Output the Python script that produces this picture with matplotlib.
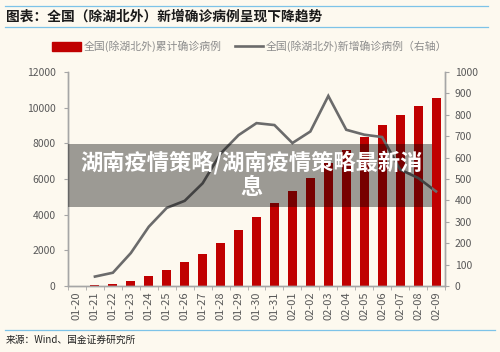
import matplotlib
matplotlib.use("Agg")
import matplotlib.pyplot as plt
from matplotlib.lines import Line2D
from matplotlib.patches import Patch, Rectangle
import numpy as np

plt.rcParams['font.family'] = ['Noto Sans CJK SC', 'DejaVu Sans']

dates = ["01-20", "01-21", "01-22", "01-23", "01-24", "01-25", "01-26", "01-27",
         "01-28", "01-29", "01-30", "01-31", "02-01", "02-02", "02-03", "02-04",
         "02-05", "02-06", "02-07", "02-08", "02-09"]
cumulative = [21, 65, 127, 281, 558, 923, 1321, 1801, 2420, 3125, 3886, 4638,
              5306, 6028, 6916, 7646, 8353, 9049, 9593, 10098, 10540]
new_cases = [None, 44, 62, 154, 277, 365, 398, 480, 619, 705, 761, 752,
             668, 722, 888, 730, 707, 696, 544, 505, 442]

bg = "#FDF9EF"
red = "#C00000"
gray_line = "#6B6B6B"
tick_col = "#595959"
spine_col = "#A6A6A6"
blue = "#7DC3E8"

fig = plt.figure(figsize=(5.0, 3.52), dpi=100, facecolor=bg)
ax = fig.add_axes([0.136, 0.1875, 0.754, 0.608], facecolor=bg)
ax2 = ax.twinx()

x = np.arange(len(dates))
ax.bar(x, cumulative, width=0.5, color=red, zorder=2)
xs = [i for i, v in zip(x, new_cases) if v is not None]
ys = [v for v in new_cases if v is not None]
ax2.plot(xs, ys, color=gray_line, lw=1.9, solid_joinstyle='miter', zorder=3)

ax.set_xlim(-0.5, 20.5)
ax.set_ylim(0, 12000)
ax2.set_ylim(0, 1000)
ax.set_yticks(np.arange(0, 12001, 2000))
ax2.set_yticks(np.arange(0, 1001, 100))

ax.set_xticks(x)
ax.set_xticklabels(dates, rotation=90)
ax.set_xticks(np.arange(-0.5, 20.6, 1), minor=True)
ax.tick_params(axis='x', which='major', length=0, pad=4, labelsize=8, labelcolor=tick_col)
ax.tick_params(axis='x', which='minor', length=3, color=spine_col, direction='out')
ax.tick_params(axis='y', length=3, color=spine_col, labelsize=7.5, labelcolor=tick_col, pad=6)
ax2.tick_params(axis='y', length=3, color=spine_col, labelsize=7.5, labelcolor=tick_col, pad=4)

for a in (ax, ax2):
    a.spines['top'].set_visible(False)
    for s in ('left', 'right', 'bottom'):
        a.spines[s].set_color(spine_col)
        a.spines[s].set_linewidth(1.0)

# Title and lines
fig.add_artist(Line2D([0.01, 0.976], [1 - 6/352, 1 - 6/352], color=blue, lw=0.9))
fig.add_artist(Line2D([0.01, 0.976], [1 - 27/352, 1 - 27/352], color=blue, lw=0.9))
fig.text(0.012, 1 - 16.5/352, "图表：全国（除湖北外）新增确诊病例呈现下降趋势",
         fontsize=9.9, fontweight='bold', color="#1A1A1A", va='center', ha='left')
fig.add_artist(Line2D([0.01, 0.99], [1 - 330/352, 1 - 330/352], color=blue, lw=0.9))
fig.text(0.012, 1 - 340/352, "来源：Wind、国金证券研究所", fontsize=7,
         color="#222222", va='center', ha='left')

# Legend
handles = [Patch(facecolor=red, edgecolor=red),
           Line2D([0], [0], color=gray_line, lw=1.9)]
labels = ["全国(除湖北外)累计确诊病例", "全国(除湖北外)新增确诊病例（右轴）"]
fig.legend(handles, labels, loc='center', bbox_to_anchor=(0.5, 1 - 46/352),
           ncol=2, frameon=False, fontsize=7.8, labelcolor="#8C8C8C",
           handlelength=2.6, handleheight=0.9, columnspacing=1.2, handletextpad=0.3)

# Overlay banner
fig.add_artist(Rectangle((68/500, 1 - 207/352), (432 - 68)/500, 63/352,
                         transform=fig.transFigure, facecolor='black', alpha=0.38,
                         edgecolor='none', zorder=10))
fig.text(251/500, 1 - 175/352, "湖南疫情策略/湖南疫情策略最新消\n息", fontsize=16,
         fontweight='bold', color='white', ha='center', va='center',
         linespacing=1.05, zorder=11)

fig.savefig("out.png", dpi=100, facecolor=bg)
